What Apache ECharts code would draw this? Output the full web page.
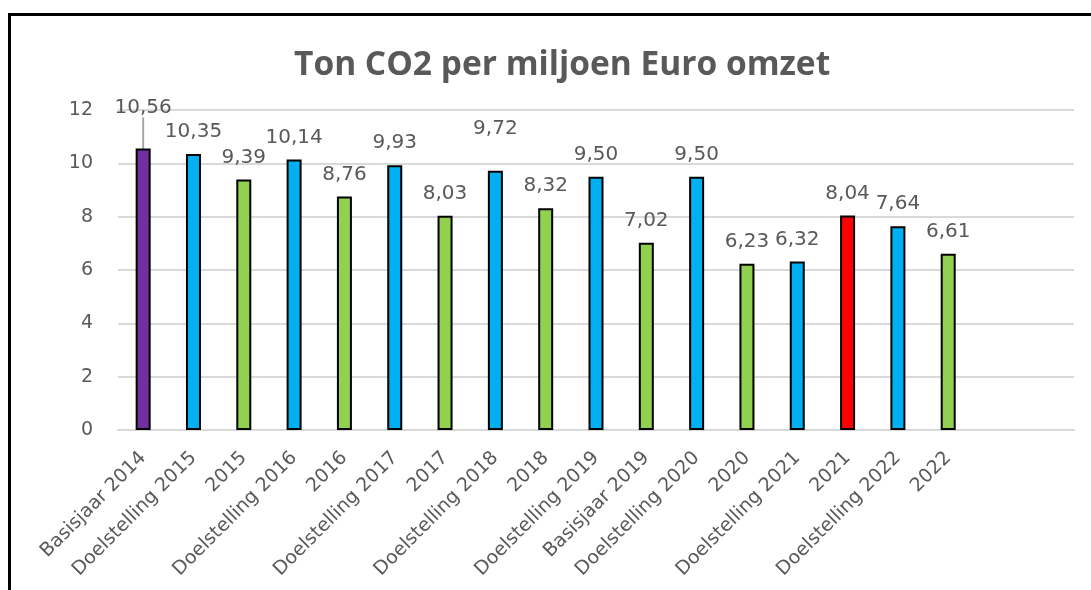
<!DOCTYPE html>
<html>
<head>
<meta charset="utf-8">
<script src="https://cdn.jsdelivr.net/npm/echarts@6/dist/echarts.min.js"></script>
<style>
  body { margin: 0; background: #fff; }
  #chart { width: 1091px; height: 590px; }
  #frame { position: absolute; left: 8px; top: 13px; width: 1090px; height: 600px;
           border-left: 3px solid #000; border-top: 3px solid #000; pointer-events: none; }
</style>
</head>
<body>
<div id="chart"></div>
<div id="frame"></div>
<script>
const categories = [
  'Basisjaar 2014', 'Doelstelling 2015', '2015', 'Doelstelling 2016', '2016',
  'Doelstelling 2017', '2017', 'Doelstelling 2018', '2018', 'Doelstelling 2019',
  'Basisjaar 2019', 'Doelstelling 2020', '2020', 'Doelstelling 2021', '2021',
  'Doelstelling 2022', '2022', '', ''
];
const values = [10.56, 10.35, 9.39, 10.14, 8.76, 9.93, 8.03, 9.72, 8.32, 9.50,
  7.02, 9.50, 6.23, 6.32, 8.04, 7.64, 6.61, null, null];
const yTicks = { min: 0, max: 12, interval: 2 };

const purple = '#7030a0';
const blue = '#00b0f0';
const green = '#92d050';
const red = '#ff0000';
const barColors = [purple, blue, green, blue, green, blue, green, blue, green, blue,
  green, blue, green, blue, red, blue, green, blue, blue];

// labels Excel pushed up to avoid overlap (index -> extra dy)
const liftedLabels = { 0: -19, 7: -20 };

const textColor = '#595959';
const labelFont = 'DejaVu Sans';

const chartDom = document.getElementById('chart');
const myChart = echarts.init(chartDom);

const barData = values.map((v, i) => ({
  value: v,
  itemStyle: { color: barColors[i] },
  labelLine: { show: i === 0 }
}));

const option = {
  animation: false,
  title: {
    text: 'Ton CO2 per miljoen Euro omzet',
    left: 289,
    top: 43,
    textStyle: { fontFamily: 'Open Sans', fontSize: 33.5, fontWeight: 'bold', color: textColor }
  },
  grid: { left: 118, right: 17, top: 110, bottom: 160 },
  xAxis: {
    type: 'category',
    data: categories,
    axisLine: { lineStyle: { color: '#d9d9d9', width: 2 } },
    axisTick: { show: false },
    axisLabel: {
      rotate: 45,
      interval: 0,
      margin: 25,
      fontFamily: labelFont,
      fontSize: 19,
      color: textColor
    }
  },
  yAxis: {
    type: 'value',
    min: yTicks.min,
    max: yTicks.max,
    interval: yTicks.interval,
    axisLine: { show: false },
    axisTick: { show: false },
    axisLabel: { fontFamily: labelFont, fontSize: 19, color: textColor, margin: 25 },
    splitLine: { lineStyle: { color: '#d9d9d9', width: 2 } }
  },
  series: [
    {
      type: 'bar',
      data: barData,
      barWidth: 15,
      itemStyle: { borderColor: '#000', borderWidth: 2 },
      label: {
        show: true,
        position: 'top',
        distance: 12,
        fontFamily: labelFont,
        fontSize: 20,
        color: textColor,
        formatter: (p) => p.value.toFixed(2).replace('.', ',')
      },
      labelLine: { show: false, lineStyle: { color: '#a6a6a6', width: 2 } },
      labelLayout: (params) => {
        const dy = liftedLabels[params.dataIndex];
        return dy ? { dy: dy } : {};
      }
    }
  ]
};

option && myChart.setOption(option);
</script>
</body>
</html>
